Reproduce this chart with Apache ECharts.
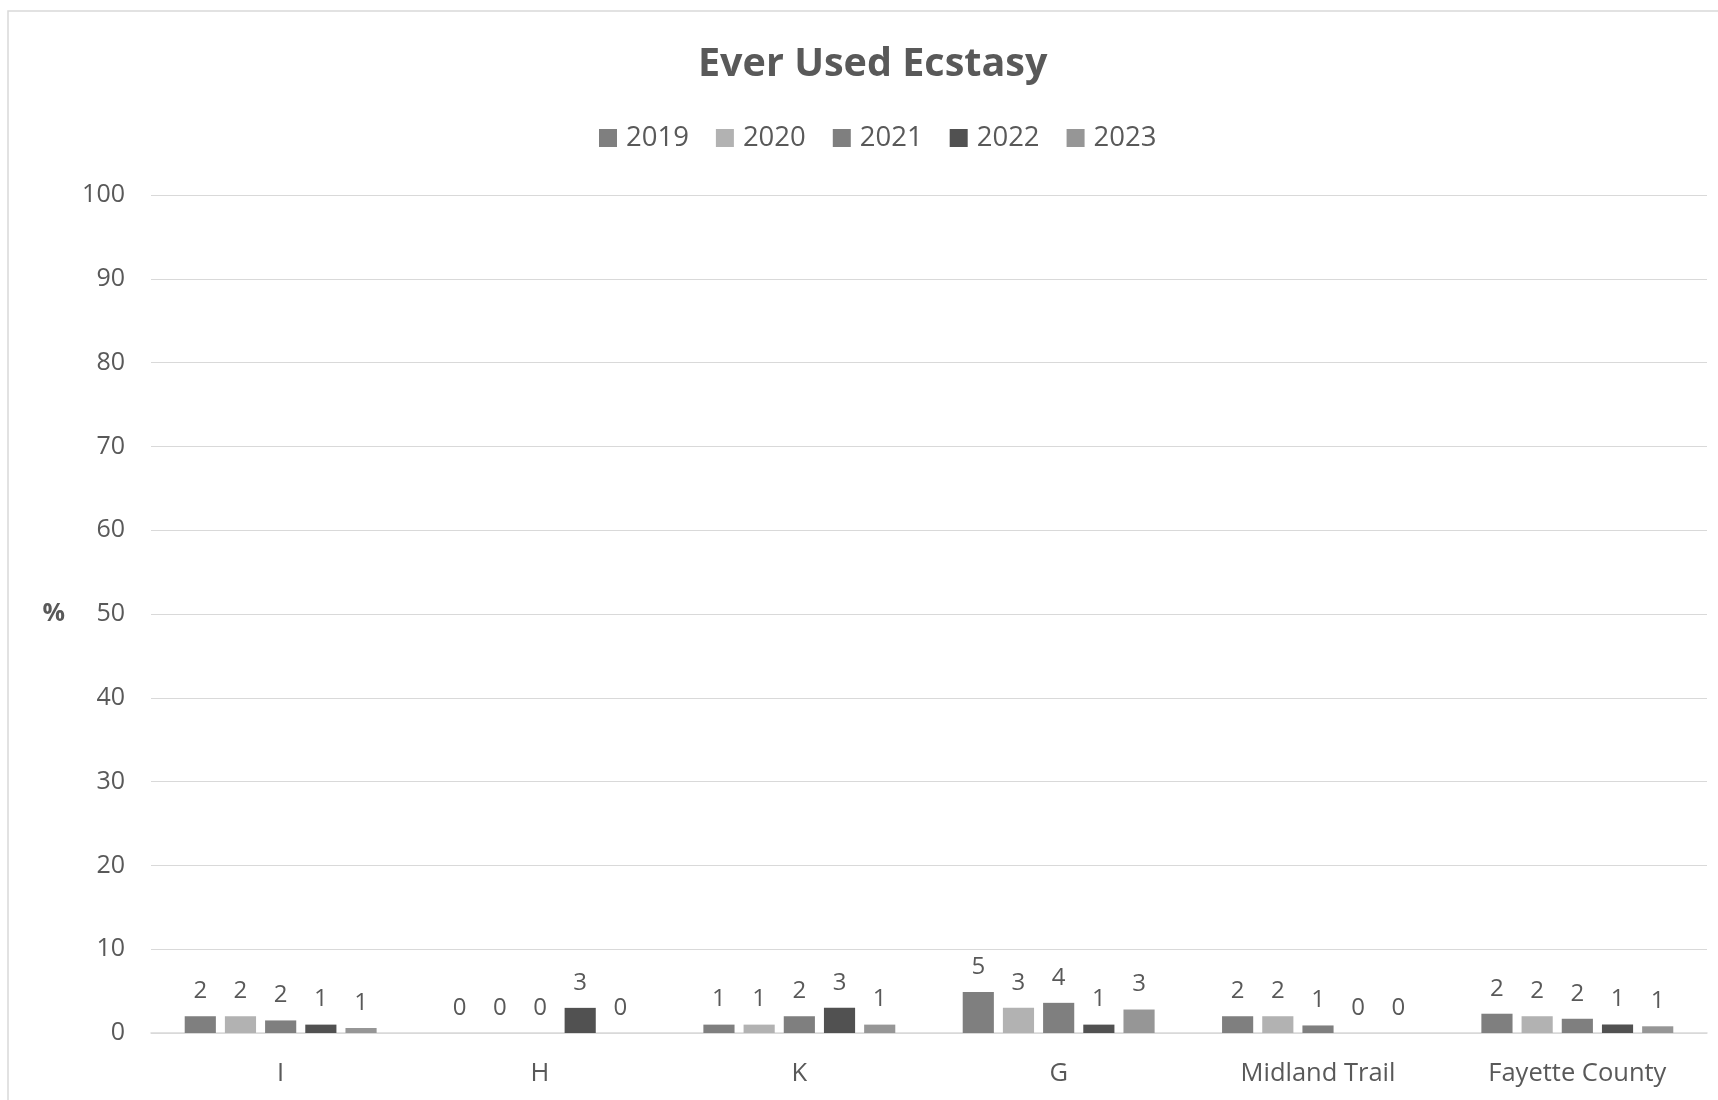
<!DOCTYPE html>
<html><head><meta charset="utf-8">
<script src="https://cdn.jsdelivr.net/npm/echarts@6/dist/echarts.min.js"></script>
<style>html,body{margin:0;padding:0;background:#fff}#c{width:1718px;height:1100px}</style>
</head><body><div id="c"></div>
<script>
const categories = ["I", "H", "K", "G", "Midland Trail", "Fayette County"];
const years = ["2019", "2020", "2021", "2022", "2023"];
const v2019 = [2.0, 0, 1.0, 4.9, 2.0, 2.3];
const v2020 = [2.0, 0, 1.0, 3.0, 2.0, 2.0];
const v2021 = [1.5, 0, 2.0, 3.6, 0.9, 1.7];
const v2022 = [1.0, 3.0, 3.0, 1.0, 0, 1.0];
const v2023 = [0.6, 0, 1.0, 2.8, 0, 0.8];
const yTicks = [0, 10, 20, 30, 40, 50, 60, 70, 80, 90, 100];
const colors = ["#7f7f7f", "#b2b2b2", "#7f7f7f", "#515151", "#969696"];
const allValues = [v2019, v2020, v2021, v2022, v2023];
const FONT = "Open Sans";

const chart = echarts.init(document.getElementById('c'));
chart.setOption({
  animation: false,
  textStyle: { fontFamily: FONT },
  graphic: [{ type: 'rect', shape: { x: 8, y: 11, width: 1800, height: 1200 }, style: { fill: 'none', stroke: '#d9d9d9', lineWidth: 1.5 }, silent: true }],
  title: { text: 'Ever Used Ecstasy', left: 693, top: 40, textStyle: { fontFamily: FONT, fontSize: 39.5, fontWeight: 'bold', color: '#595959' } },
  legend: { top: 119, left: 594, itemWidth: 18, itemHeight: 18, itemGap: 27, icon: 'rect', textStyle: { fontFamily: FONT, fontSize: 27.5, color: '#595959', padding: [0, 0, 0, 4] }, data: years },
  grid: { left: 151, right: 11, top: 195, bottom: 67, containLabel: false },
  xAxis: { type: 'category', data: categories, axisTick: { show: false }, axisLine: { lineStyle: { color: '#d9d9d9', width: 1.5 } }, axisLabel: { fontFamily: FONT, fontSize: 25.5, color: '#595959', margin: 28 } },
  yAxis: { type: 'value', min: 0, max: 100, interval: 10, name: '%', nameLocation: 'middle', nameRotate: 0, nameGap: 86, nameTextStyle: { fontFamily: FONT, fontSize: 25, fontWeight: 'bold', color: '#595959' },
    axisLabel: { fontFamily: FONT, fontSize: 25, color: '#595959', margin: 26, formatter: v => yTicks.includes(v) ? String(v) : '' },
    splitLine: { lineStyle: { color: '#d9d9d9', width: 1.2 } }, axisLine: { show: false }, axisTick: { show: false } },
  series: years.map((y, i) => ({
    name: y, type: 'bar', data: allValues[i], barGap: '29%', barCategoryGap: '26%',
    itemStyle: { color: colors[i] },
    label: { show: true, position: 'top', distance: 13, fontFamily: FONT, fontSize: 24, color: '#595959', formatter: p => String(Math.round(p.value)) }
  }))
});
</script></body></html>
